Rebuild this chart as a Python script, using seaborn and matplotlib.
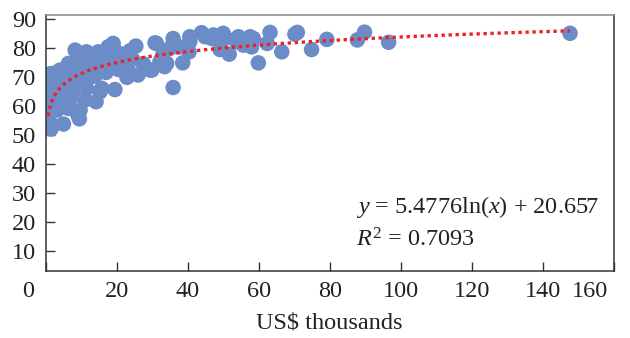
import numpy as np
import matplotlib
matplotlib.use("Agg")
import matplotlib.pyplot as plt
import matplotlib.transforms as mtransforms
import seaborn as sns

# GDP per capita (US$ thousands) vs life expectancy (years)
gdp = [0.7, 0.8, 0.9, 1.0, 1.2, 1.5, 2.0, 0.8, 0.8, 0.9, 1.1, 1.3, 1.6, 1.8,
       2.1, 0.8, 0.9, 1.2, 2.2, 2.6, 3.0, 4.0, 3.4, 2.8, 3.6, 4.5, 5.0, 4.2,
       3.2, 2.4, 1.4, 5.3, 5.8, 4.8, 6.4, 6.4, 7.0, 7.8, 8.3, 8.3, 8.0, 8.8,
       9.7, 9.7, 9.1, 9.5, 10.5, 11.1, 11.5, 11.5, 12.0, 12.5, 13.0, 13.5,
       14.0, 14.2, 14.8, 15.3, 15.8, 15.5, 16.3, 17.0, 17.6, 17.0, 18.2, 19.0,
       19.5, 20.0, 19.5, 20.9, 22.8, 23.2, 22.9, 24.0, 26.0, 25.4, 29.4, 29.9,
       30.8, 31.2, 32.2, 32.7, 33.1, 34.1, 33.5, 35.0, 35.9, 35.9, 37.6, 38.6,
       40.4, 40.6, 40.6, 43.9, 44.9, 47.2, 46.8, 49.1, 50.0, 50.5, 51.7, 53.8,
       54.3, 53.8, 55.7, 57.6, 58.5, 58.0, 59.9, 62.4, 63.2, 66.5, 70.2, 70.9,
       74.9, 79.2, 87.8, 89.8, 96.6, 147.7,
       1.0, 2.5, 3.8, 6.0, 7.2, 10.0, 12.8, 16.5, 18.0, 21.5, 24.5, 27.5,
       1.7, 3.3, 5.5, 9.0, 13.2, 15.0, 20.5, 23.8]
life = [56.0, 55.0, 53.0, 52.5, 54.0, 52.0, 53.3, 58.0, 60.0, 61.5, 63.0, 62.0,
        64.0, 65.5, 66.5, 69.5, 70.5, 71.0, 71.2, 68.5, 69.0, 72.3, 67.0, 63.0,
        61.5, 63.5, 53.7, 60.2, 58.5, 59.5, 57.8, 66.0, 69.5, 70.5, 74.6, 59.1,
        62.5, 65.4, 75.2, 79.2, 70.5, 72.0, 68.9, 58.5, 56.8, 55.5, 75.0, 62.0,
        66.0, 78.6, 74.0, 72.5, 70.0, 75.5, 70.5, 61.4, 78.6, 64.8, 66.0, 73.0,
        76.4, 74.6, 80.3, 71.5, 73.0, 81.5, 65.6, 74.0, 77.0, 78.0, 77.5, 75.0,
        69.8, 71.0, 70.6, 80.6, 72.3, 72.3, 81.7, 81.5, 75.2, 76.3, 78.0, 74.6,
        73.5, 79.8, 83.2, 66.3, 80.3, 74.8, 78.6, 83.8, 82.1, 85.2, 83.8, 84.4,
        83.2, 79.4, 85.0, 83.2, 77.8, 83.2, 83.8, 82.1, 80.9, 83.8, 83.2, 80.3,
        74.8, 81.5, 85.3, 78.6, 84.7, 85.3, 79.4, 82.9, 82.7, 85.4, 81.9, 85.0,
        67.5, 65.0, 70.0, 72.5, 73.5, 73.0, 76.5, 72.0, 77.5, 73.5, 76.0, 74.5,
        68.0, 71.5, 68.5, 67.0, 71.5, 75.5, 72.5, 79.0]

# logarithmic trend line (x in US$), as printed on the chart
slope, intercept = 5.4776, 20.657
eq_text = r"$y$ = 5.4776ln($x$) + 20.657"
r2_text = r"$R^2$ = 0.7093"

sns.set_theme(style="white")
plt.rcParams["font.family"] = ["Liberation Serif", "DejaVu Serif"]
plt.rcParams["mathtext.fontset"] = "custom"
plt.rcParams["mathtext.rm"] = "Liberation Serif"
plt.rcParams["mathtext.it"] = "Liberation Serif:italic"

fs = 17.5
fig = plt.figure(figsize=(6.3, 3.38), dpi=100)
ax = fig.add_axes([0.0725, 0.198, 0.9016, 0.7576])

sns.scatterplot(x=gdp, y=life, ax=ax, s=125, color="#6C8CC8",
                edgecolor="none", linewidth=0, alpha=1, zorder=2)

xs = np.linspace(min(gdp), max(gdp), 300)
ys = slope * np.log(xs * 1000) + intercept
sns.lineplot(x=xs, y=ys, ax=ax, color="#EE2026", linewidth=2.4,
             linestyle=(0, (1, 1.1)), zorder=3)

ax.set_xlim(0, 160)
ax.set_ylim(3, 91.3)
ax.set_xticks(range(0, 161, 20))
ax.set_yticks(range(10, 91, 10))
ax.tick_params(bottom=True, left=True, direction="in", length=6.5, width=1,
               colors="#333333", labelsize=fs, labelcolor="#222222")
ax.tick_params(axis="x", pad=7)
ax.tick_params(axis="y", pad=7)
for s in ax.spines.values():
    s.set_color("#333333")
    s.set_linewidth(1.1)
ax.spines["top"].set_color("#888888")

xl = ax.get_xticklabels()
xl[0].set_transform(xl[0].get_transform() +
                    mtransforms.ScaledTranslation(-18 / 100, 0, fig.dpi_scale_trans))
xl[-1].set_transform(xl[-1].get_transform() +
                     mtransforms.ScaledTranslation(-24 / 100, 0, fig.dpi_scale_trans))

ax.set_xlabel("US$ thousands", fontsize=fs, color="#222222", labelpad=8)

ax.text(0.546, 0.25, eq_text, transform=ax.transAxes, fontsize=fs,
        va="center", ha="left", color="#222222")
ax.text(0.546, 0.121, r2_text, transform=ax.transAxes, fontsize=fs,
        va="center", ha="left", color="#222222")

plt.savefig("out.png", dpi=100)
